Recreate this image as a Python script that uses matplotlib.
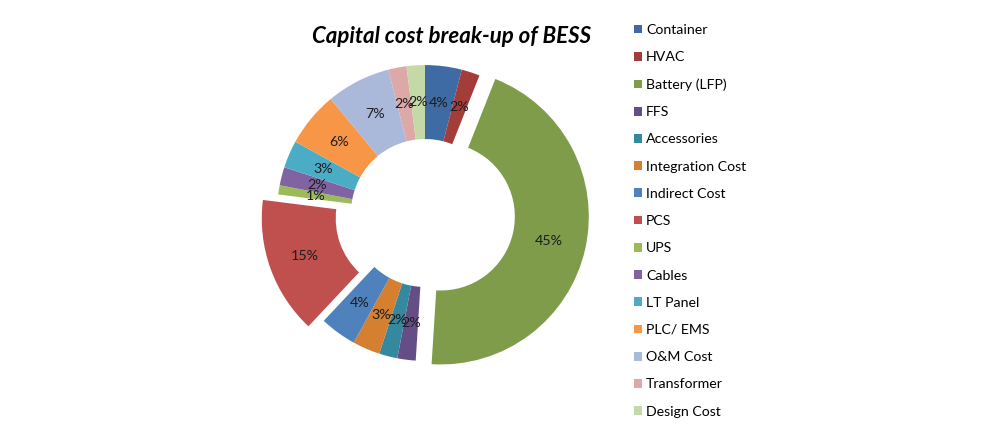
import matplotlib
matplotlib.use("Agg")
import matplotlib.pyplot as plt

plt.rcParams["font.family"] = ["Lato", "DejaVu Sans"]

categories = ["Container", "HVAC", "Battery (LFP)", "FFS", "Accessories",
              "Integration Cost", "Indirect Cost", "PCS", "UPS", "Cables",
              "LT Panel", "PLC/ EMS", "O&M Cost", "Transformer", "Design Cost"]
shares = [4, 2, 45, 2, 2, 3, 4, 15, 1, 2, 3, 6, 7, 2, 2]
explode = [0, 0, 0.11, 0, 0, 0, 0, 0.11, 0, 0, 0, 0, 0, 0, 0]
colors = ["#3E6BA3", "#A33D3A", "#7E9C49", "#654E86", "#35899E",
          "#D57F30", "#4F81BD", "#C0504D", "#9BBB59", "#8064A2",
          "#4BACC6", "#F79646", "#AAB9DA", "#DCA9A8", "#C5D8A8"]

fig = plt.figure(figsize=(10, 4.3), dpi=100)
# ring centre at (425, 213) px, outer radius ~148 px
ax = fig.add_axes([0.2475, 0.0919, 0.355, 0.8256])
wedges, texts, autotexts = ax.pie(
    shares, explode=explode, colors=colors, startangle=90, counterclock=False,
    autopct="%1.0f%%", pctdistance=0.75,
    wedgeprops=dict(width=0.5, linewidth=0),
    textprops=dict(fontsize=10.3, color="#1c1c1c"))
ax.set_xlim(-1.2, 1.2)
ax.set_ylim(-1.2, 1.2)
ax.set_aspect("equal")

fig.text(0.4515, 0.915, "Capital cost break-up of BESS", ha="center", va="center",
         fontsize=16, fontweight="bold", fontstyle="italic", color="black")

fig.legend(wedges, categories, loc="upper left", bbox_to_anchor=(0.621, 0.974),
           frameon=False, fontsize=10.2, handlelength=0.58, handleheight=0.58,
           handletextpad=0.3, labelspacing=1.075)

fig.savefig("out.png", dpi=100, facecolor="white")
